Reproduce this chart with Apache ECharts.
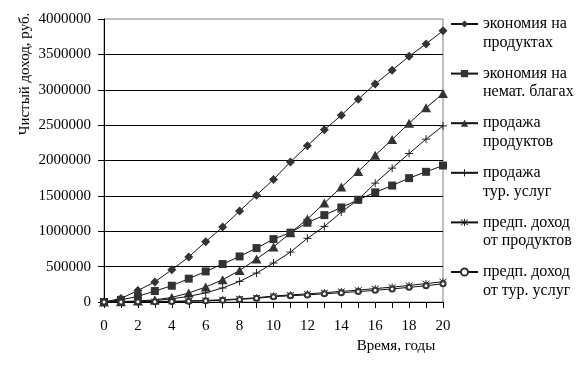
<!DOCTYPE html>
<html><head><meta charset="utf-8">
<script src="https://cdn.jsdelivr.net/npm/echarts@6/dist/echarts.min.js"></script>
<style>html,body{margin:0;padding:0;background:#fff}#c{width:577px;height:365px}</style>
</head><body><div id="c"></div>
<script>
const years = ['0','1','2','3','4','5','6','7','8','9','10','11','12','13','14','15','16','17','18','19','20'];
const seriesNames = ['экономия на\nпродуктах','экономия на\nнемат. благах','продажа\nпродуктов','продажа\nтур. услуг','предп. доход\nот продуктов','предп. доход\nот тур. услуг'];
const econProducts = [0, 50000, 162000, 284000, 456000, 636000, 853000, 1060000, 1285000, 1510000, 1733000, 1980000, 2209000, 2433000, 2640000, 2866000, 3083000, 3276000, 3473000, 3648000, 3835000];
const econIntangible = [0, 30000, 80000, 155000, 230000, 330000, 432000, 536000, 644000, 762000, 889000, 980000, 1120000, 1228000, 1336000, 1444000, 1550000, 1646000, 1751000, 1840000, 1929000];
const salesProducts = [0, 5000, 15000, 30000, 65000, 127000, 212000, 315000, 446000, 607000, 777000, 978000, 1172000, 1398000, 1624000, 1844000, 2075000, 2296000, 2527000, 2744000, 2946000];
const salesTours = [0, 2000, 8000, 20000, 45000, 80000, 130000, 198000, 291000, 409000, 551000, 706000, 900000, 1068000, 1271000, 1445000, 1680000, 1892000, 2099000, 2302000, 2489000];
const expProducts = [0, 1000, 3000, 6000, 10000, 15000, 22000, 32000, 45000, 60000, 85000, 100000, 115000, 132000, 150000, 168000, 190000, 210000, 235000, 260000, 287000];
const expTours = [0, 1000, 2000, 4000, 7000, 11000, 17000, 25000, 37000, 52000, 75000, 88000, 100000, 115000, 131000, 147000, 165000, 185000, 207000, 230000, 258000];
const yTicks = [0, 500000, 1000000, 1500000, 2000000, 2500000, 3000000, 3500000, 4000000];

const allData = [econProducts, econIntangible, salesProducts, salesTours, expProducts, expTours];
const FONT = '"Liberation Serif","Times New Roman",serif';
const symbols = ['diamond','rect','triangle','path://M0,5L10,5M5,0L5,10','path://M1,1L9,9M9,1L1,9M5,0L5,10','emptyCircle'];
const symbolSizes = [[9,9],[8,8],[10,9],[8,8],[7,7],[5,5]];

const chart = echarts.init(document.getElementById('c'));

const series = allData.map((d, i) => {
  let itemStyle;
  if (i < 3) itemStyle = { color: '#333', borderWidth: 0 };
  else if (i < 5) itemStyle = { color: '#222', borderColor: '#222', borderWidth: 1 };
  else itemStyle = { color: '#333', borderColor: '#333', borderWidth: 0.9 };
  return {
    name: seriesNames[i],
    type: 'line',
    data: d,
    symbol: symbols[i],
    symbolSize: symbolSizes[i],
    showAllSymbol: true,
    animation: false,
    lineStyle: { color: '#111', width: 1 },
    itemStyle: itemStyle
  };
});

const legendY0 = 24, legendStep = 49.6, lh = 18.5;
const legends = seriesNames.map((n, i) => ({
  data: [(i === 3 || i === 4) ? { name: n, itemStyle: { color: 'transparent', borderColor: '#222', borderWidth: 1 } } : n],
  orient: 'vertical',
  left: 450,
  top: legendY0 + i * legendStep - lh * 1.5,
  padding: 0,
  itemWidth: 27,
  itemHeight: 9,
  itemGap: 4,
  selectedMode: false,
  formatter: name => ' \n' + name,
  textStyle: { fontFamily: FONT, fontSize: 16, color: '#000', lineHeight: lh }
}));

chart.setOption({
  animation: false,
  backgroundColor: '#fff',
  grid: { left: 104, right: 134, top: 19, bottom: 63, show: true, borderColor: '#808080', borderWidth: 1, containLabel: false },
  legend: legends,
  xAxis: {
    type: 'category',
    data: years,
    boundaryGap: false,
    axisLine: { lineStyle: { color: '#000', width: 1 } },
    axisTick: { show: true, interval: 0, length: 6, lineStyle: { color: '#000' } },
    axisLabel: { interval: 1, margin: 17, fontFamily: FONT, fontSize: 15, color: '#000' },
    splitLine: { show: false }
  },
  yAxis: {
    type: 'value',
    min: yTicks[0],
    max: yTicks[yTicks.length - 1],
    interval: yTicks[1] - yTicks[0],
    axisLine: { show: true, lineStyle: { color: '#000', width: 1 } },
    axisTick: { show: true, length: 6, lineStyle: { color: '#000' } },
    axisLabel: { margin: 13, fontFamily: FONT, fontSize: 15, color: '#000', formatter: v => String(v) },
    splitLine: { show: true, showMinLine: false, showMaxLine: false, lineStyle: { color: '#000', width: 1 } }
  },
  graphic: [
    { type: 'text', x: 25, y: 74, rotation: Math.PI / 2,
      style: { text: 'Чистый доход, руб.', font: '15px ' + FONT, fill: '#000', align: 'center', verticalAlign: 'middle' } },
    { type: 'text', x: 396, y: 346,
      style: { text: 'Время, годы', font: '15px ' + FONT, fill: '#000', align: 'center', verticalAlign: 'middle' } }
  ],
  series: series
});
</script></body></html>
